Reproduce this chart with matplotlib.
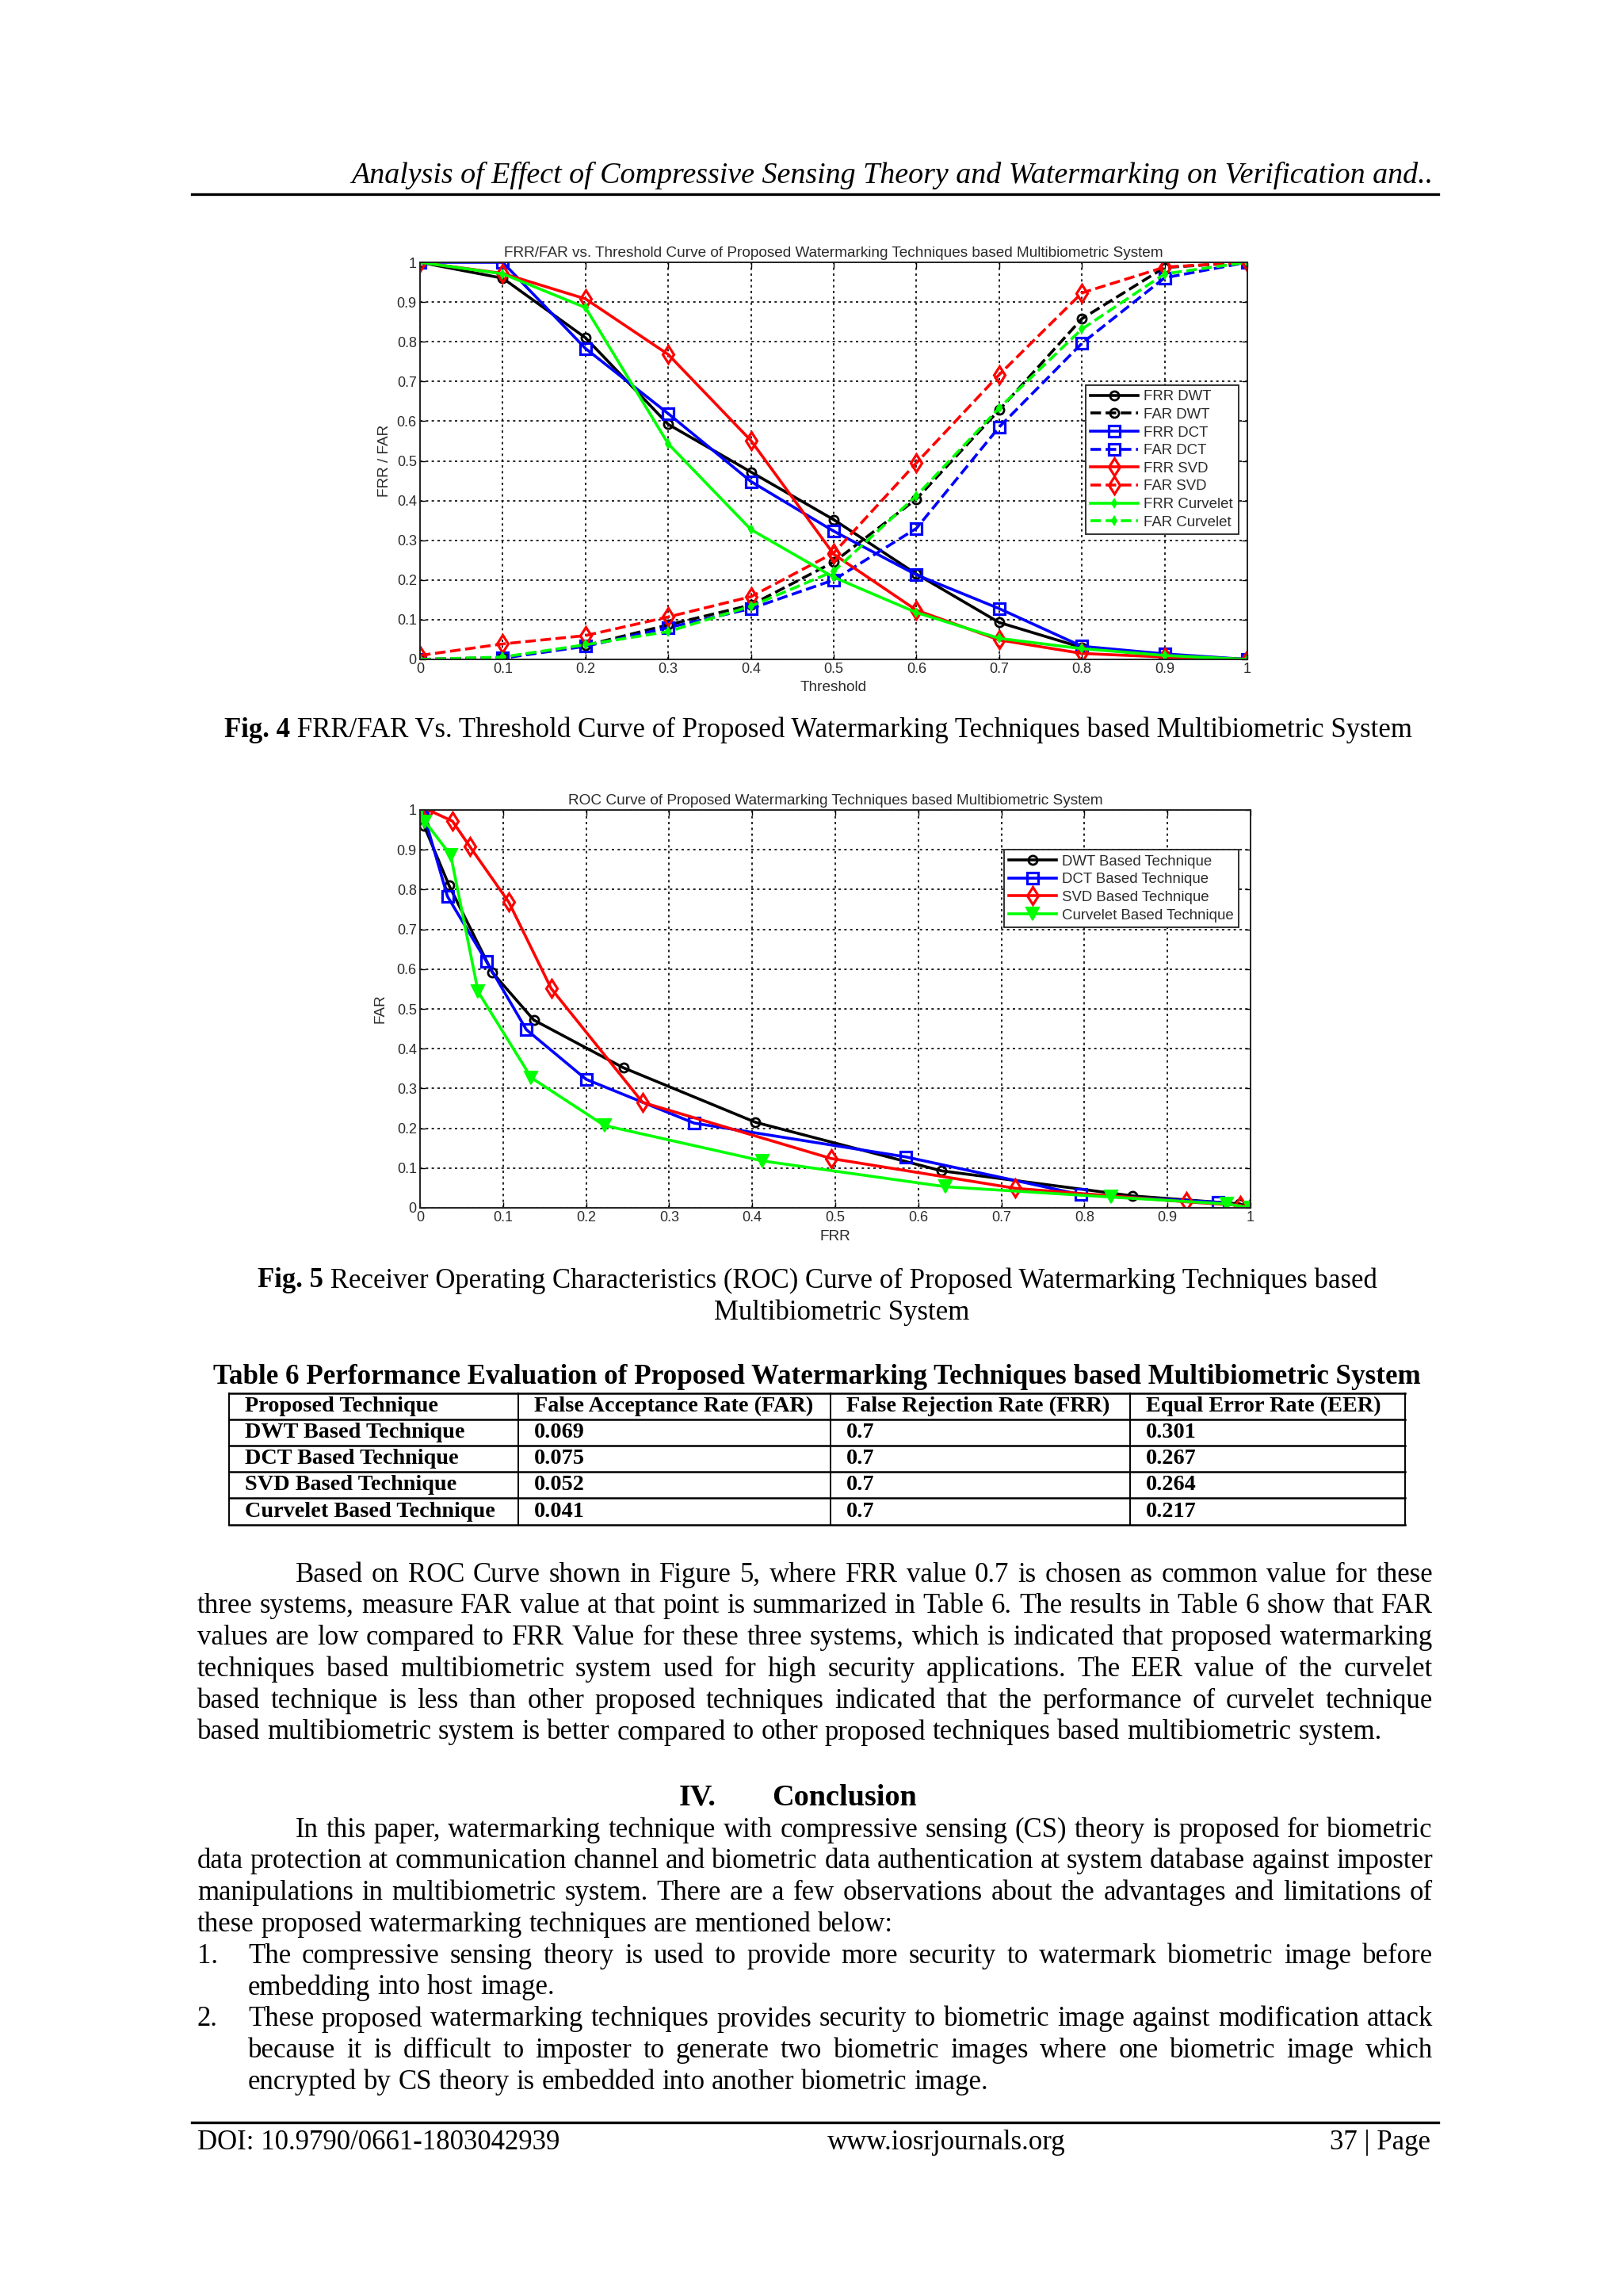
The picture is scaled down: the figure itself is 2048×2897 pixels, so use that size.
import matplotlib
matplotlib.use("Agg")
import matplotlib.pyplot as plt
import numpy as np

W, H = 2048, 2897

# values (threshold sweep); Fig. 5 plots FAR against FRR
threshold = [0.0, 0.1, 0.2, 0.3, 0.4, 0.5, 0.6, 0.7, 0.8, 0.9, 1.0]
frr_dwt = [1.0, 0.96, 0.81, 0.592, 0.472, 0.352, 0.215, 0.093, 0.03, 0.01, 0.0]
far_dwt = [0.0, 0.005, 0.035, 0.087, 0.137, 0.245, 0.404, 0.628, 0.858, 0.987, 1.0]
frr_dct = [1.0, 1.0, 0.783, 0.619, 0.448, 0.323, 0.213, 0.128, 0.033, 0.014, 0.0]
far_dct = [0.0, 0.003, 0.033, 0.08, 0.128, 0.2, 0.33, 0.585, 0.796, 0.961, 1.0]
frr_svd = [1.0, 0.972, 0.908, 0.768, 0.551, 0.265, 0.124, 0.049, 0.015, 0.006, 0.0]
far_svd = [0.01, 0.039, 0.06, 0.107, 0.158, 0.268, 0.495, 0.717, 0.923, 0.988, 1.0]
frr_cur = [1.0, 0.971, 0.886, 0.543, 0.327, 0.207, 0.118, 0.053, 0.027, 0.01, 0.0]
far_cur = [0.0, 0.006, 0.037, 0.07, 0.134, 0.222, 0.412, 0.633, 0.832, 0.971, 1.0]
tick_vals = [0, 0.1, 0.2, 0.3, 0.4, 0.5, 0.6, 0.7, 0.8, 0.9, 1]
tick_labels = ["0", "0.1", "0.2", "0.3", "0.4", "0.5", "0.6", "0.7", "0.8", "0.9", "1"]

table_header = ["Proposed Technique", "False Acceptance Rate (FAR)", "False Rejection Rate (FRR)", "Equal Error Rate (EER)"]
table_technique = ["DWT Based Technique", "DCT Based Technique", "SVD Based Technique", "Curvelet Based Technique"]
table_far = ["0.069", "0.075", "0.052", "0.041"]
table_frr = ["0.7", "0.7", "0.7", "0.7"]
table_eer = ["0.301", "0.267", "0.264", "0.217"]

para1 = ["Based on ROC Curve shown in Figure 5, where FRR value 0.7 is chosen as common value for these",
         "three systems, measure FAR value at that point is summarized in Table 6. The results in Table 6 show that FAR",
         "values are low compared to FRR Value for these three systems, which is indicated that proposed watermarking",
         "techniques based multibiometric system used for high security applications. The EER value of the curvelet",
         "based technique is less than other proposed techniques indicated that the performance of curvelet technique",
         "based multibiometric system is better compared to other proposed techniques based multibiometric system."]
para2 = ["In this paper, watermarking technique with compressive sensing (CS) theory is proposed for biometric",
         "data protection at communication channel and biometric data authentication at system database against imposter",
         "manipulations in multibiometric system. There are a few observations about the advantages and limitations of",
         "these proposed watermarking techniques are mentioned below:"]
item1 = ["The compressive sensing theory is used to provide more security to watermark biometric image before",
         "embedding into host image."]
item2 = ["These proposed watermarking techniques provides security to biometric image against modification attack",
         "because it is difficult to imposter to generate two biometric images where one biometric image which",
         "encrypted by CS theory is embedded into another biometric image."]

SERIF = "Liberation Serif"
SANS = "Liberation Sans"
BLUE, RED, GREEN = "#0000ff", "#ff0000", "#00ff00"
GREYTXT = "#2b2b2b"

fig = plt.figure(figsize=(W / 100, H / 100), dpi=100)
fig.patch.set_facecolor("white")


def axes_px(left, top, right, bottom):
    return fig.add_axes([left / W, 1 - bottom / H, (right - left) / W, (bottom - top) / H])


def style_axes(ax):
    ax.set_xlim(0, 1); ax.set_ylim(0, 1)
    ax.set_xticks(tick_vals); ax.set_yticks(tick_vals)
    ax.set_xticklabels(tick_labels, fontfamily=SANS, fontsize=13, color=GREYTXT)
    ax.set_yticklabels(tick_labels, fontfamily=SANS, fontsize=13, color=GREYTXT)
    ax.tick_params(direction="in", top=True, right=True, length=5, width=1, pad=3)
    ax.grid(True, color="black", linestyle=(0, (1.8, 2.6)), linewidth=1.2)
    for s in ax.spines.values():
        s.set_linewidth(1.4); s.set_color("#222222")


def style_legend(leg):
    leg.get_frame().set_linewidth(1.3)
    for t in leg.get_texts():
        t.set_color(GREYTXT)


legend_kw = dict(loc="upper right", prop={"family": SANS, "size": 13.4}, handlelength=3.2, labelspacing=0.3,
                 borderpad=0.35, handletextpad=0.4, borderaxespad=0, fancybox=False, framealpha=1,
                 edgecolor="#222222")

# ---- Fig. 4
ax1 = axes_px(530, 331, 1574, 832)
style_axes(ax1)
lw = 2.6
ax1.plot(threshold, frr_dwt, "-", color="black", lw=lw, marker="o", ms=8, mfc="none", mew=2, label="FRR DWT")
ax1.plot(threshold, far_dwt, "--", color="black", lw=lw, marker="o", ms=8, mfc="none", mew=2, label="FAR DWT")
ax1.plot(threshold, frr_dct, "-", color=BLUE, lw=lw, marker="s", ms=10.5, mfc="none", mew=2.3, label="FRR DCT")
ax1.plot(threshold, far_dct, "--", color=BLUE, lw=lw, marker="s", ms=10.5, mfc="none", mew=2.3, label="FAR DCT")
ax1.plot(threshold, frr_svd, "-", color=RED, lw=lw, marker="d", ms=11.5, mfc="none", mew=2.3, label="FRR SVD")
ax1.plot(threshold, far_svd, "--", color=RED, lw=lw, marker="d", ms=11.5, mfc="none", mew=2.3, label="FAR SVD")
ax1.plot(threshold, frr_cur, "-", color=GREEN, lw=lw, marker="d", ms=5.5, mew=1.5, label="FRR Curvelet")
ax1.plot(threshold, far_cur, "--", color=GREEN, lw=lw, marker="d", ms=5.5, mew=1.5, label="FAR Curvelet")
ax1.set_title("FRR/FAR vs. Threshold Curve of Proposed Watermarking Techniques based Multibiometric System",
              fontfamily=SANS, fontsize=13.7, color=GREYTXT, pad=5)
ax1.set_xlabel("Threshold", fontfamily=SANS, fontsize=13.7, color=GREYTXT, labelpad=4)
ax1.set_ylabel("FRR / FAR", fontfamily=SANS, fontsize=13.7, color=GREYTXT, labelpad=5)
leg = ax1.legend(bbox_to_anchor=(0.989, 0.691), **legend_kw)
style_legend(leg)

# ---- Fig. 5
ax2 = axes_px(530, 1022, 1578, 1524)
style_axes(ax2)
ax2.plot(far_dwt, frr_dwt, "-", color="black", lw=lw, marker="o", ms=8, mfc="none", mew=2, label="DWT Based Technique")
ax2.plot(far_dct, frr_dct, "-", color=BLUE, lw=lw, marker="s", ms=10.5, mfc="none", mew=2.3, label="DCT Based Technique")
ax2.plot(far_svd, frr_svd, "-", color=RED, lw=lw, marker="d", ms=11.5, mfc="none", mew=2.3, label="SVD Based Technique")
ax2.plot(far_cur, frr_cur, "-", color=GREEN, lw=lw, marker="v", ms=12, mew=1.5, label="Curvelet Based Technique")
ax2.set_title("ROC Curve of Proposed Watermarking Techniques based Multibiometric System",
              fontfamily=SANS, fontsize=13.7, color=GREYTXT, pad=5)
ax2.set_xlabel("FRR", fontfamily=SANS, fontsize=13.7, color=GREYTXT, labelpad=5)
ax2.set_ylabel("FAR", fontfamily=SANS, fontsize=13.7, color=GREYTXT, labelpad=9)
leg2 = ax2.legend(bbox_to_anchor=(0.986, 0.90), **legend_kw)
style_legend(leg2)

# ---- page text layer in pixel coordinates
page = fig.add_axes([0, 0, 1, 1], zorder=-1)
page.set_xlim(0, W); page.set_ylim(H, 0); page.axis("off")
renderer = fig.canvas.get_renderer()
BODY = 25


def write_line(line, x0, x1, y, justify=True, size=BODY, **kw):
    words = line.split()
    texts = [page.text(0, y, w, fontsize=size, fontfamily=SERIF, va="center", ha="left", **kw) for w in words]
    widths = [t.get_window_extent(renderer).width for t in texts]
    gap = size * 100 / 72 * 0.25
    if justify and len(words) > 1:
        gap = max((x1 - x0 - sum(widths)) / (len(words) - 1), gap * 0.5)
    x = x0
    for t, w in zip(texts, widths):
        t.set_x(x); x += w + gap


def paragraph(lines, x0, x1, y0, step, indent=0):
    for i, line in enumerate(lines):
        write_line(line, x0 + (indent if i == 0 else 0), x1, y0 + i * step, justify=i < len(lines) - 1)


def caption(label, rest, xc, y):
    a = page.text(0, y, label, fontfamily=SERIF, fontweight="bold", fontsize=BODY, ha="left", va="center")
    b = page.text(0, y, rest, fontfamily=SERIF, fontsize=BODY, ha="left", va="center")
    wa = a.get_window_extent(renderer).width; wb = b.get_window_extent(renderer).width
    a.set_x(xc - (wa + wb) / 2); b.set_x(xc - (wa + wb) / 2 + wa)


L, R, STEP = 249, 1808, 39.8

page.text(1808, 221, "Analysis of Effect of Compressive Sensing Theory and Watermarking on Verification and..",
          fontfamily=SERIF, style="italic", fontsize=27.4, ha="right", va="center")
page.plot([242, 1815], [245, 245], color="black", lw=2.4)

caption("Fig. 4", " FRR/FAR Vs. Threshold Curve of Proposed Watermarking Techniques based Multibiometric System", 1032, 921)
caption("Fig. 5", " Receiver Operating Characteristics (ROC) Curve of Proposed Watermarking Techniques based", 1031, 1616)
page.text(1062, 1656, "Multibiometric System", fontfamily=SERIF, fontsize=BODY, ha="center", va="center")

page.text(1031, 1737, "Table 6 Performance Evaluation of Proposed Watermarking Techniques based Multibiometric System",
          fontfamily=SERIF, fontweight="bold", fontsize=25.2, ha="center", va="center")

col_x = [289, 654, 1048, 1426, 1773]
row_y = [1758, 1791, 1824, 1857, 1890, 1924]
for x in col_x:
    page.plot([x, x], [row_y[0], row_y[-1]], color="black", lw=1.4)
for y in row_y:
    page.plot([col_x[0], col_x[-1]], [y, y], color="black", lw=1.8)
rows = [table_header] + [list(r) for r in zip(table_technique, table_far, table_frr, table_eer)]
for i, row in enumerate(rows):
    yc = (row_y[i] + row_y[i + 1]) / 2
    for j, cell in enumerate(row):
        page.text(col_x[j] + 20, yc, cell, fontfamily=SERIF, fontweight="bold", fontsize=20.3, ha="left", va="center")

paragraph(para1, L, R, 1987, STEP, indent=124)
page.text(857, 2268, "IV.", fontfamily=SERIF, fontweight="bold", fontsize=27.5, ha="left", va="center")
page.text(974, 2268, "Conclusion", fontfamily=SERIF, fontweight="bold", fontsize=27.5, ha="left", va="center")
paragraph(para2, L, R, 2309, STEP, indent=124)
LI = 313
y = 2309 + 4 * STEP
for num, item in (("1.", item1), ("2.", item2)):
    page.text(L, y, num, fontfamily=SERIF, fontsize=BODY, ha="left", va="center")
    paragraph(item, LI, R, y, STEP)
    y += len(item) * STEP

page.plot([242, 1815], [2678, 2678], color="black", lw=2.4)
page.text(L, 2704, "DOI: 10.9790/0661-1803042939", fontfamily=SERIF, fontsize=BODY, ha="left", va="center")
page.text(1194, 2704, "www.iosrjournals.org", fontfamily=SERIF, fontsize=BODY, ha="center", va="center")
page.text(1805, 2704, "37 | Page", fontfamily=SERIF, fontsize=BODY, ha="right", va="center")

fig.savefig("out.png", dpi=100, facecolor="white")
